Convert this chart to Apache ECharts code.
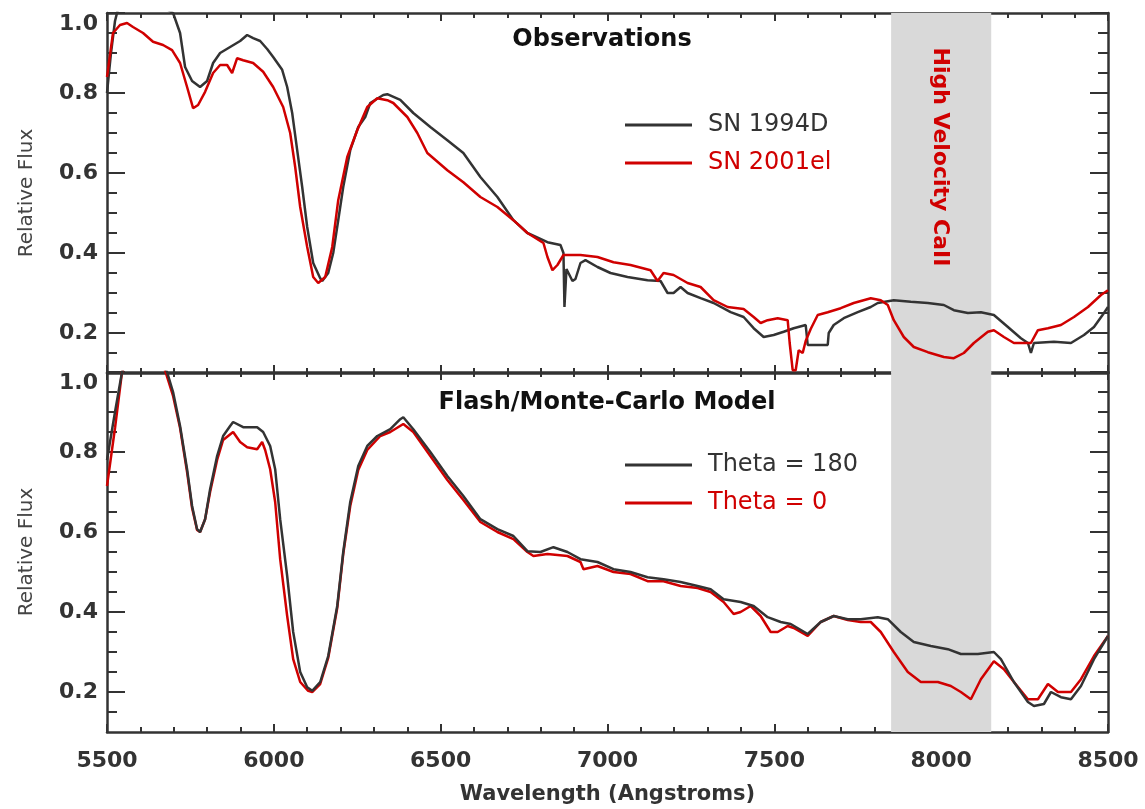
<!DOCTYPE html>
<html>
<head>
<meta charset="utf-8">
<title>SN 1994D / SN 2001el spectra</title>
<script src="https://cdn.jsdelivr.net/npm/echarts@6/dist/echarts.min.js"></script>
<style>
  html, body { margin: 0; padding: 0; background: #fff; }
  #chart { width: 1145px; height: 809px; }
</style>
</head>
<body>
<div id="chart"></div>
<script>
// wavelength (Angstroms) / relative flux

// top panel: observations
const wave94 = [5500,5512,5524,5533,5554,5599,5659,5698,5719,5734,5755,5779,5800,5818,5839,5869,5899,5920,5938,5959,5980,5998,6025,6040,6055,6070,6085,6100,6118,6139,6145,6163,6178,6193,6208,6229,6253,6274,6289,6328,6340,6379,6418,6469,6520,6568,6619,6670,6718,6760,6820,6859,6868,6871,6877,6895,6904,6919,6934,6970,7009,7060,7120,7159,7180,7198,7219,7240,7279,7318,7369,7408,7438,7468,7498,7528,7558,7594,7600,7660,7663,7678,7708,7750,7789,7810,7858,7909,7960,8008,8038,8080,8119,8158,8200,8239,8260,8269,8278,8338,8389,8428,8458,8488,8500];
const flux94 = [0.80,0.90,0.98,1.01,1.02,1.03,1.02,1.0,0.95,0.865,0.83,0.815,0.83,0.875,0.90,0.915,0.93,0.945,0.937,0.93,0.91,0.89,0.858,0.815,0.75,0.657,0.565,0.465,0.375,0.337,0.33,0.35,0.40,0.482,0.565,0.657,0.715,0.74,0.775,0.795,0.797,0.783,0.75,0.715,0.682,0.65,0.59,0.54,0.482,0.45,0.427,0.42,0.40,0.265,0.36,0.33,0.335,0.375,0.382,0.365,0.35,0.34,0.332,0.33,0.30,0.30,0.315,0.30,0.287,0.275,0.252,0.24,0.212,0.19,0.195,0.203,0.212,0.22,0.17,0.17,0.20,0.22,0.237,0.252,0.265,0.275,0.282,0.278,0.275,0.27,0.257,0.25,0.252,0.245,0.215,0.187,0.175,0.15,0.175,0.178,0.175,0.195,0.215,0.25,0.265];

const wave01 = [5500,5518,5539,5560,5578,5608,5638,5668,5695,5719,5740,5758,5773,5794,5818,5839,5860,5875,5890,5908,5938,5968,5998,6028,6049,6064,6079,6100,6118,6133,6154,6175,6193,6220,6250,6280,6310,6340,6358,6400,6430,6460,6520,6568,6619,6670,6718,6760,6808,6820,6835,6850,6868,6919,6970,7018,7069,7129,7150,7168,7198,7240,7279,7318,7360,7408,7438,7459,7480,7510,7540,7546,7555,7564,7573,7585,7594,7609,7630,7660,7699,7738,7789,7819,7840,7858,7888,7918,7960,8008,8038,8068,8098,8140,8158,8188,8218,8269,8290,8320,8359,8398,8440,8479,8500];
const flux01 = [0.84,0.95,0.97,0.975,0.965,0.95,0.928,0.92,0.907,0.875,0.815,0.762,0.77,0.803,0.85,0.87,0.87,0.85,0.887,0.882,0.875,0.853,0.815,0.765,0.70,0.615,0.515,0.415,0.34,0.325,0.34,0.415,0.532,0.64,0.707,0.765,0.787,0.782,0.775,0.74,0.70,0.65,0.607,0.577,0.54,0.515,0.482,0.45,0.425,0.39,0.357,0.37,0.395,0.395,0.39,0.377,0.37,0.357,0.33,0.35,0.345,0.325,0.315,0.282,0.265,0.26,0.24,0.225,0.232,0.237,0.232,0.175,0.107,0.107,0.157,0.15,0.18,0.21,0.245,0.252,0.262,0.275,0.287,0.282,0.27,0.232,0.19,0.165,0.152,0.14,0.137,0.15,0.175,0.203,0.207,0.19,0.175,0.175,0.207,0.212,0.22,0.24,0.265,0.295,0.307];

// bottom panel: model
const wave180 = [5500,5524,5545,5569,5629,5668,5680,5698,5719,5740,5755,5770,5779,5794,5809,5830,5848,5869,5878,5908,5950,5968,5989,6004,6019,6040,6058,6079,6100,6115,6139,6163,6190,6208,6229,6253,6280,6310,6349,6379,6388,6418,6469,6520,6568,6619,6670,6718,6760,6799,6838,6880,6919,6970,7018,7069,7120,7168,7219,7270,7309,7348,7399,7438,7480,7519,7549,7600,7639,7678,7720,7759,7810,7840,7879,7918,7969,8020,8059,8110,8158,8179,8218,8260,8278,8308,8329,8359,8389,8419,8458,8500];
const flux180 = [0.78,0.90,1.0,1.05,1.06,1.02,1.0,0.95,0.865,0.757,0.665,0.607,0.60,0.632,0.707,0.79,0.84,0.865,0.875,0.862,0.862,0.85,0.815,0.757,0.632,0.49,0.35,0.25,0.212,0.203,0.225,0.29,0.415,0.55,0.675,0.765,0.815,0.84,0.857,0.882,0.887,0.857,0.80,0.74,0.69,0.632,0.607,0.59,0.552,0.55,0.562,0.55,0.532,0.525,0.507,0.50,0.487,0.482,0.475,0.465,0.457,0.432,0.425,0.415,0.387,0.375,0.37,0.345,0.375,0.39,0.382,0.382,0.387,0.382,0.35,0.325,0.315,0.307,0.295,0.295,0.30,0.282,0.225,0.175,0.165,0.17,0.20,0.187,0.182,0.215,0.282,0.34];

const wave0 = [5500,5524,5545,5569,5629,5668,5683,5698,5719,5740,5755,5770,5779,5794,5809,5830,5848,5878,5899,5920,5950,5965,5974,5989,6004,6019,6040,6058,6079,6103,6115,6139,6163,6190,6208,6229,6253,6280,6319,6349,6388,6418,6469,6520,6568,6619,6670,6718,6760,6778,6820,6880,6919,6928,6970,7018,7069,7120,7168,7219,7270,7309,7348,7378,7399,7429,7459,7489,7510,7540,7558,7600,7639,7678,7720,7759,7789,7819,7858,7900,7939,7990,8029,8059,8089,8119,8158,8188,8218,8260,8290,8320,8350,8389,8419,8458,8500];
const flux0 = [0.715,0.86,1.0,1.04,1.05,1.02,0.98,0.94,0.86,0.75,0.66,0.605,0.60,0.632,0.70,0.78,0.83,0.85,0.825,0.812,0.807,0.825,0.805,0.757,0.675,0.532,0.39,0.282,0.225,0.203,0.2,0.22,0.285,0.41,0.545,0.665,0.755,0.805,0.84,0.85,0.87,0.85,0.79,0.73,0.68,0.625,0.60,0.582,0.55,0.54,0.545,0.54,0.525,0.507,0.515,0.50,0.495,0.477,0.477,0.465,0.46,0.45,0.425,0.395,0.40,0.415,0.39,0.35,0.35,0.365,0.36,0.34,0.375,0.39,0.38,0.375,0.375,0.35,0.30,0.25,0.225,0.225,0.215,0.20,0.182,0.232,0.277,0.257,0.225,0.182,0.182,0.22,0.2,0.2,0.232,0.29,0.34];

// shaded high-velocity Ca II region
const hvBand = [7850, 8150];

// tick marks
const yMajor = [0.2, 0.4, 0.6, 0.8, 1.0];
const yMinor = [0.15, 0.25, 0.3, 0.35, 0.45, 0.5, 0.55, 0.65, 0.7, 0.75, 0.85, 0.9, 0.95];

const ink = '#333333';
const red = '#d00000';
const font = 'DejaVu Sans';

const pairs = (w, f) => w.map((x, i) => [x, f[i]]);

function xAxesFor(g, showLabels) {
  const base = {
    gridIndex: g, type: 'value', min: 5500, max: 8500, interval: 500,
    axisLine: { show: true, onZero: false, lineStyle: { color: ink, width: 2.5 } },
    axisTick: { show: true, inside: true, length: 8, lineStyle: { color: ink, width: 2 } },
    minorTick: { show: true, splitNumber: 5, length: 5, lineStyle: { color: ink, width: 2 } },
    splitLine: { show: false }
  };
  return [
    Object.assign({}, base, {
      position: 'bottom',
      axisLabel: {
        show: showLabels, margin: 18, formatter: v => String(v),
        fontFamily: font, fontWeight: 'bold', fontSize: 22, color: ink
      },
      name: showLabels ? 'Wavelength (Angstroms)' : '',
      nameLocation: 'middle', nameGap: 52,
      nameTextStyle: { fontFamily: font, fontWeight: 'bold', fontSize: 21, color: ink }
    }),
    Object.assign({}, base, { position: 'top', axisLabel: { show: false } })
  ];
}

function yAxesFor(g) {
  const base = { gridIndex: g, type: 'value', min: 0.1, max: 1.0, splitLine: { show: false } };
  const line = { show: true, onZero: false, lineStyle: { color: ink, width: 2.5 } };
  const major = { show: true, inside: true, length: 18, customValues: yMajor, lineStyle: { color: ink, width: 2 } };
  const minor = { show: true, inside: true, length: 10, customValues: yMinor, lineStyle: { color: ink, width: 2 } };
  return [
    Object.assign({}, base, {
      position: 'left', axisLine: line, axisTick: major,
      axisLabel: {
        customValues: yMajor, formatter: v => v.toFixed(1), margin: 9,
        verticalAlignMaxLabel: 'top',
        fontFamily: font, fontWeight: 'bold', fontSize: 22, color: ink
      },
      name: 'Relative Flux', nameLocation: 'middle', nameGap: 70,
      nameTextStyle: { fontFamily: font, fontSize: 20, color: '#444' }
    }),
    Object.assign({}, base, { position: 'right', axisLine: line, axisTick: major, axisLabel: { show: false } }),
    Object.assign({}, base, { position: 'left', axisLine: { show: false }, axisTick: minor, axisLabel: { show: false } }),
    Object.assign({}, base, { position: 'right', axisLine: { show: false }, axisTick: minor, axisLabel: { show: false } })
  ];
}

function band(xi, yi) {
  return {
    type: 'line', xAxisIndex: xi, yAxisIndex: yi, data: [], z: 1, silent: true,
    markArea: { silent: true, itemStyle: { color: '#d9d9d9' }, data: [[{ xAxis: hvBand[0] }, { xAxis: hvBand[1] }]] }
  };
}

function spectrum(name, color, w, f, xi, yi) {
  return {
    name: name, type: 'line', xAxisIndex: xi, yAxisIndex: yi, z: 3,
    data: pairs(w, f), showSymbol: false, clip: true, color: color,
    lineStyle: { color: color, width: 2.5 }
  };
}

function legendFor(top, items) {
  return {
    orient: 'vertical', left: 625, top: top, padding: 0, itemGap: 14,
    icon: 'rect', itemWidth: 67, itemHeight: 3, selectedMode: false,
    textStyle: { fontFamily: font, fontSize: 24, lineHeight: 24, padding: [0, 0, 0, 11] },
    data: items.map(([n, c]) => ({ name: n, textStyle: { color: c } }))
  };
}

const chart = echarts.init(document.getElementById('chart'));

chart.setOption({
  animation: false,
  backgroundColor: '#ffffff',
  grid: [
    { left: 107, top: 13, width: 1001, height: 360, outerBoundsMode: 'none' },
    { left: 107, top: 372, width: 1001, height: 360, outerBoundsMode: 'none' }
  ],
  title: [
    { text: 'Observations', left: 602, top: 28, textAlign: 'center', padding: 0,
      textStyle: { fontFamily: font, fontSize: 24, fontWeight: 'bold', color: '#111' } },
    { text: 'Flash/Monte-Carlo Model', left: 607, top: 391, textAlign: 'center', padding: 0,
      textStyle: { fontFamily: font, fontSize: 24, fontWeight: 'bold', color: '#111' } }
  ],
  legend: [
    legendFor(113, [['SN 1994D', ink], ['SN 2001el', red]]),
    legendFor(453, [['Theta = 180', ink], ['Theta = 0', red]])
  ],
  xAxis: [].concat(xAxesFor(0, false), xAxesFor(1, true)),
  yAxis: [].concat(yAxesFor(0), yAxesFor(1)),
  graphic: [{
    type: 'text', x: 940, y: 157, rotation: -Math.PI / 2, z: 10,
    style: { text: 'High Velocity CaII', fill: red, font: 'bold 22px "DejaVu Sans"', align: 'center', verticalAlign: 'middle' }
  }],
  series: [
    band(0, 0),
    spectrum('SN 1994D', ink, wave94, flux94, 0, 0),
    spectrum('SN 2001el', red, wave01, flux01, 0, 0),
    band(2, 4),
    spectrum('Theta = 0', red, wave0, flux0, 2, 4),
    spectrum('Theta = 180', ink, wave180, flux180, 2, 4)
  ]
});
</script>
</body>
</html>
